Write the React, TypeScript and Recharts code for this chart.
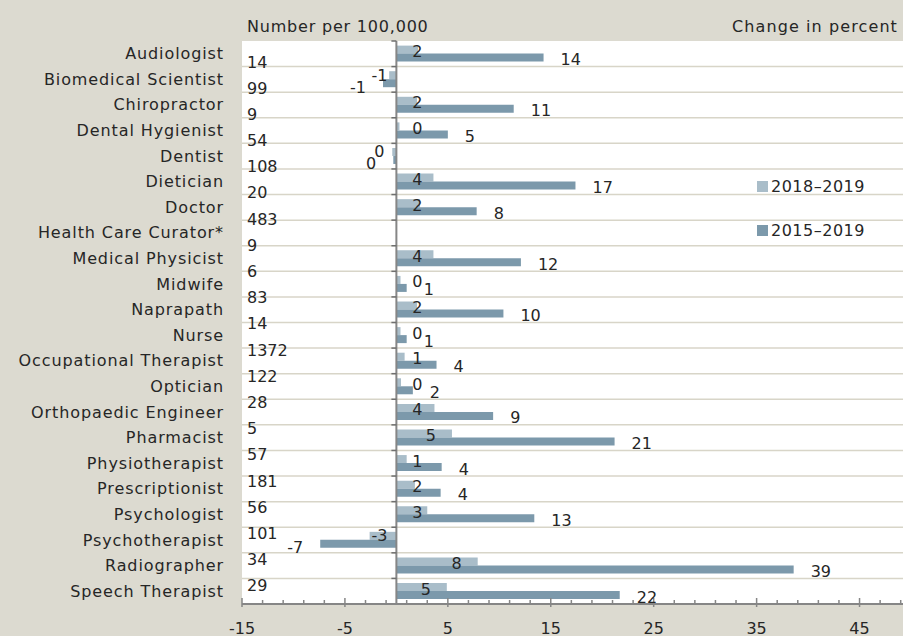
import React from 'react';
import {
  BarChart,
  Bar,
  XAxis,
  YAxis,
  CartesianGrid,
  ReferenceLine,
  ReferenceArea,
  Legend,
  LabelList,
} from 'recharts';

const categories = [
  'Audiologist',
  'Biomedical Scientist',
  'Chiropractor',
  'Dental Hygienist',
  'Dentist',
  'Dietician',
  'Doctor',
  'Health Care Curator*',
  'Medical Physicist',
  'Midwife',
  'Naprapath',
  'Nurse',
  'Occupational Therapist',
  'Optician',
  'Orthopaedic Engineer',
  'Pharmacist',
  'Physiotherapist',
  'Prescriptionist',
  'Psychologist',
  'Psychotherapist',
  'Radiographer',
  'Speech Therapist',
];

// Change in percent 2018–2019
const change2018to2019 = [
  2.1, -0.7, 2.0, 0.3, -0.4, 3.6, 2.3, null, 3.6, 0.4, 2.0, 0.4, 0.8, 0.45, 3.7,
  5.4, 1.0, 1.8, 3.0, -2.6, 7.9, 4.9,
];

// Change in percent 2015–2019
const change2015to2019 = [
  14.3, -1.3, 11.4, 5.0, -0.3, 17.4, 7.8, null, 12.1, 1.0, 10.4, 1.0, 3.9, 1.6, 9.4,
  21.2, 4.4, 4.3, 13.4, -7.4, 38.6, 21.7,
];

// Number per 100,000 (column as printed)
const perHundredThousand = [
  14, 99, 9, 54, 108, 20, 483, 9, 6, 83, 14, 1372, 122, 28, 5, 57, 181, 56, 101, 34, 29,
];
const perHundredThousandIndex = perHundredThousand.map((_, i) => i);

const seriesNames = ['2018–2019', '2015–2019'];

const xTicks = [
  -15, -13, -11, -9, -7, -5, -3, -1, 1, 3, 5, 7, 9, 11, 13, 15, 17, 19, 21, 23, 25, 27,
  29, 31, 33, 35, 37, 39, 41, 43, 45, 47, 49,
];
const xLabelTicks = [-15, -5, 5, 15, 25, 35, 45];

const data = categories.map((name, i) => ({
  name,
  recent: change2018to2019[i],
  long: change2015to2019[i],
}));

const FONT = '"DejaVu Sans", sans-serif';
const TEXT = '#262626';
const LIGHT = '#A9BDC9';
const DARK = '#7C99AB';
const BG = '#DCDAD0';
const AXIS = '#868686';

const fmt = (v: number) => String(Math.round(v));

const CatTick = (props: any) => {
  const { x, y, payload } = props;
  return (
    <text
      x={x - 18}
      y={y}
      textAnchor="end"
      dominantBaseline="central"
      fontFamily={FONT}
      fontSize={16}
      letterSpacing={0.9}
      fill={TEXT}
    >
      {payload.value}
    </text>
  );
};

const NumTick = (props: any) => {
  const { x, y, payload } = props;
  const v = perHundredThousand[payload.value];
  if (v === undefined) return null;
  return (
    <text
      x={x + 5}
      y={y}
      textAnchor="start"
      dominantBaseline="central"
      fontFamily={FONT}
      fontSize={16}
      fill={TEXT}
    >
      {v}
    </text>
  );
};

const XTick = (props: any) => {
  const { x, y, payload } = props;
  const major = xLabelTicks.includes(payload.value);
  return (
    <g>
      <line
        x1={x}
        x2={x}
        y1={y - (major ? 6 : 4)}
        y2={y + (major ? 3 : 1)}
        stroke={AXIS}
        strokeWidth={1.5}
      />
      {major && (
        <text
          x={x}
          y={y + 24}
          textAnchor="middle"
          dominantBaseline="central"
          fontFamily={FONT}
          fontSize={16}
          fill={TEXT}
        >
          {payload.value}
        </text>
      )}
    </g>
  );
};

const LightLabel = (props: any) => {
  const { x, y, width, height, value } = props;
  if (value === null || value === undefined) return null;
  const a = Number(x);
  const b = Number(x) + Number(width);
  const lo = Math.min(a, b);
  const hi = Math.max(a, b);
  let cx: number;
  if (value >= 0) {
    cx = Math.max(hi - 21, lo + 21);
  } else {
    cx = Math.min(lo + 21, hi - 17);
  }
  return (
    <text
      x={cx}
      y={Number(y) + Number(height) / 2 + (value < 0 ? 0 : 2)}
      textAnchor="middle"
      dominantBaseline="central"
      fontFamily={FONT}
      fontSize={16}
      fill={TEXT}
    >
      {fmt(value)}
    </text>
  );
};

const DarkLabel = (props: any) => {
  const { x, y, width, height, value } = props;
  if (value === null || value === undefined) return null;
  const a = Number(x);
  const b = Number(x) + Number(width);
  const lo = Math.min(a, b);
  const hi = Math.max(a, b);
  const pos = value >= 0;
  return (
    <text
      x={pos ? hi + 17 : lo - 17}
      y={Number(y) + Number(height) / 2 + (pos ? 2 : 4)}
      textAnchor={pos ? 'start' : 'end'}
      dominantBaseline="central"
      fontFamily={FONT}
      fontSize={16}
      fill={TEXT}
    >
      {fmt(value)}
    </text>
  );
};

const ZeroAxis = (props: any) => {
  const { x1, y1, x2, y2 } = props;
  const top = Math.min(y1, y2);
  const bottom = Math.max(y1, y2);
  const n = categories.length;
  const step = (bottom - top) / n;
  const marks = [];
  for (let i = 0; i < n; i++) {
    marks.push(top + i * step);
  }
  return (
    <g>
      <line x1={x1} x2={x2} y1={y1} y2={y2} stroke={AXIS} strokeWidth={2} />
      {marks.map((my, i) => (
        <line key={i} x1={x1 - 5} x2={x1} y1={my} y2={my} stroke="#6f6f6f" strokeWidth={1.5} />
      ))}
    </g>
  );
};

const LegendContent = (props: any) => {
  const { payload } = props;
  const items = [...(payload || [])].sort(
    (a: any, b: any) => seriesNames.indexOf(a.value) - seriesNames.indexOf(b.value),
  );
  return (
    <div style={{ fontFamily: FONT, fontSize: 16, color: TEXT, letterSpacing: 0.5 }}>
      {items.map((p: any, i: number) => (
        <div
          key={i}
          style={{ display: 'flex', alignItems: 'center', height: 22, marginBottom: 22 }}
        >
          <span
            style={{
              display: 'inline-block',
              width: 11,
              height: 11,
              background: p.color,
              marginRight: 3,
            }}
          />
          <span>{p.value}</span>
        </div>
      ))}
    </div>
  );
};

export default function App() {
  const n = categories.length;
  return (
    <div
      style={{
        position: 'absolute',
        left: 0,
        top: 0,
        width: 903,
        height: 636,
        overflow: 'hidden',
        background: BG,
      }}
    >
      <div
        style={{
          position: 'absolute',
          left: 247,
          top: 16,
          fontFamily: FONT,
          fontSize: 16,
          letterSpacing: 0.8,
          color: TEXT,
          lineHeight: '22px',
          whiteSpace: 'nowrap',
        }}
      >
        Number per 100,000
      </div>
      <div
        style={{
          position: 'absolute',
          left: 732,
          top: 16,
          fontFamily: FONT,
          fontSize: 16,
          letterSpacing: 1.1,
          color: TEXT,
          lineHeight: '22px',
          whiteSpace: 'nowrap',
        }}
      >
        Change in percent
      </div>
      <div style={{ position: 'absolute', left: 0, top: 0 }}>
        <BarChart
          width={911}
          height={636}
          data={data}
          layout="vertical"
          margin={{ top: 41, right: 0, bottom: 0, left: 0 }}
          barCategoryGap="18%"
          barGap={0}
        >
          <CartesianGrid
            yAxisId="cat"
            vertical={false}
            fill="#ffffff"
            fillOpacity={1}
            stroke="#D8D5C8"
            strokeWidth={1.5}
            horizontalCoordinatesGenerator={({ offset }: any) => {
              const out: number[] = [];
              for (let i = 1; i < n; i++) out.push(offset.top + (i * offset.height) / n);
              return out;
            }}
          />
          <ReferenceArea
            yAxisId="cat"
            fill="none"
            stroke="#6a6a6a"
            strokeWidth={1.5}
            ifOverflow="extendDomain"
          />
          <XAxis
            type="number"
            domain={[-15, 50]}
            ticks={xTicks}
            interval={0}
            height={32}
            tickSize={0}
            tickMargin={0}
            tickLine={false}
            axisLine={{ stroke: AXIS, strokeWidth: 2 }}
            tick={<XTick />}
            allowDataOverflow
          />
          <YAxis
            yAxisId="cat"
            type="category"
            dataKey="name"
            width={242}
            tickSize={0}
            tickMargin={0}
            tickLine={false}
            axisLine={false}
            interval={0}
            tick={<CatTick />}
          />
          <YAxis
            yAxisId="num"
            type="number"
            orientation="left"
            mirror
            domain={[0, perHundredThousand.length - 1]}
            ticks={perHundredThousandIndex}
            interval={0}
            allowDataOverflow
            padding={{ top: 21, bottom: -8 }}
            tickSize={0}
            tickMargin={0}
            tickLine={false}
            axisLine={false}
            width={60}
            tick={<NumTick />}
          />
          <Bar
            yAxisId="cat"
            dataKey="recent"
            name={seriesNames[0]}
            fill={LIGHT}
            isAnimationActive={false}
          >
            <LabelList dataKey="recent" content={<LightLabel />} />
          </Bar>
          <Bar
            yAxisId="cat"
            dataKey="long"
            name={seriesNames[1]}
            fill={DARK}
            isAnimationActive={false}
          >
            <LabelList dataKey="long" content={<DarkLabel />} />
          </Bar>
          <ReferenceLine yAxisId="cat" x={0} shape={<ZeroAxis />} />
          <Legend
            layout="vertical"
            align="center"
            verticalAlign="middle"
            content={<LegendContent />}
            wrapperStyle={{ left: 757, top: 175, width: 140 }}
          />
        </BarChart>
      </div>
    </div>
  );
}
